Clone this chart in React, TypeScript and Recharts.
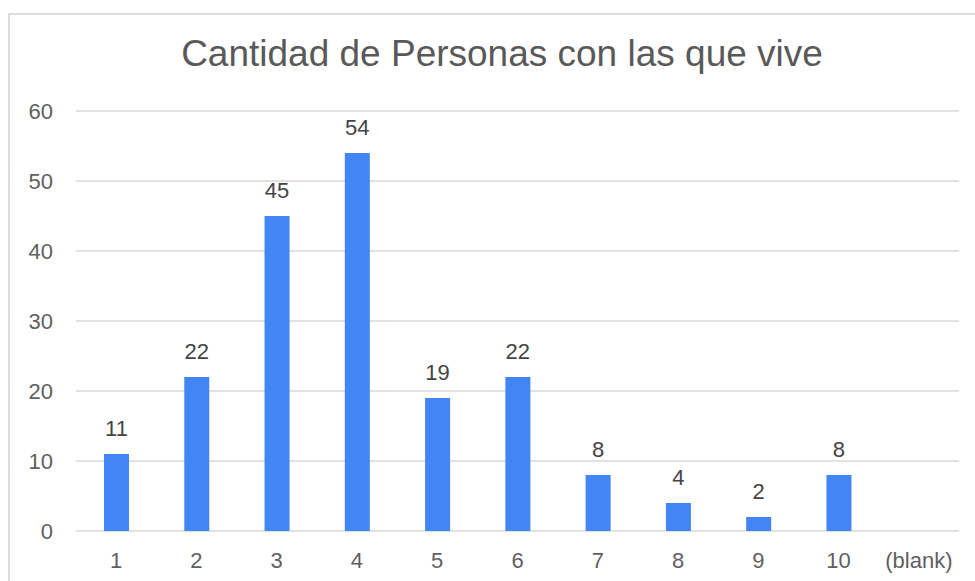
import React from "react";
import { BarChart, Bar, XAxis, YAxis, CartesianGrid, LabelList } from "recharts";

const categories = ["1", "2", "3", "4", "5", "6", "7", "8", "9", "10", "(blank)"];
const personas: (number | null)[] = [11, 22, 45, 54, 19, 22, 8, 4, 2, 8, null];
const yTicks = [0, 10, 20, 30, 40, 50, 60];

const data = categories.map((name, i) => ({ name, value: personas[i] }));

const font = "'Liberation Sans', Arial, Helvetica, sans-serif";

export default function App() {
  return (
    <div style={{ position: "absolute", left: 0, top: 0, width: 975, height: 581, background: "#fff", overflow: "hidden", fontFamily: font }}>
      <div style={{ position: "absolute", left: 8, top: 13, width: 1000, height: 700, border: "2px solid #dcdcdc", boxSizing: "border-box" }} />
      <div style={{ position: "absolute", left: 0, top: 33, width: 1004, textAlign: "center", fontSize: 37, color: "#595959" }}>
        Cantidad de Personas con las que vive
      </div>
      <div style={{ position: "absolute", left: 0, top: 0 }}>
        <BarChart width={975} height={581} data={data} margin={{ top: 111, right: 16, bottom: 15, left: 0 }}>
          <CartesianGrid vertical={false} stroke="#d9d9d9" strokeWidth={1.5} />
          <XAxis
            dataKey="name"
            axisLine={false}
            tickLine={false}
            tickSize={0}
            tickMargin={21}
            height={35}
            interval={0}
            tick={{ fill: "#5f5f5f", fontSize: 22, fontFamily: font }}
          />
          <YAxis
            domain={[0, 60]}
            ticks={yTicks}
            width={76}
            axisLine={false}
            tickLine={false}
            tickSize={0}
            tickMargin={23}
            tick={{ fill: "#5f5f5f", fontSize: 22, fontFamily: font }}
          />
          <Bar dataKey="value" fill="#4285f4" barSize={25} isAnimationActive={false}>
            <LabelList
              dataKey="value"
              position="top"
              offset={18}
              fill="#444444"
              fontSize={22}
              fontFamily={font}
              formatter={(v: any) => (v == null ? "" : v)}
            />
          </Bar>
        </BarChart>
      </div>
    </div>
  );
}
